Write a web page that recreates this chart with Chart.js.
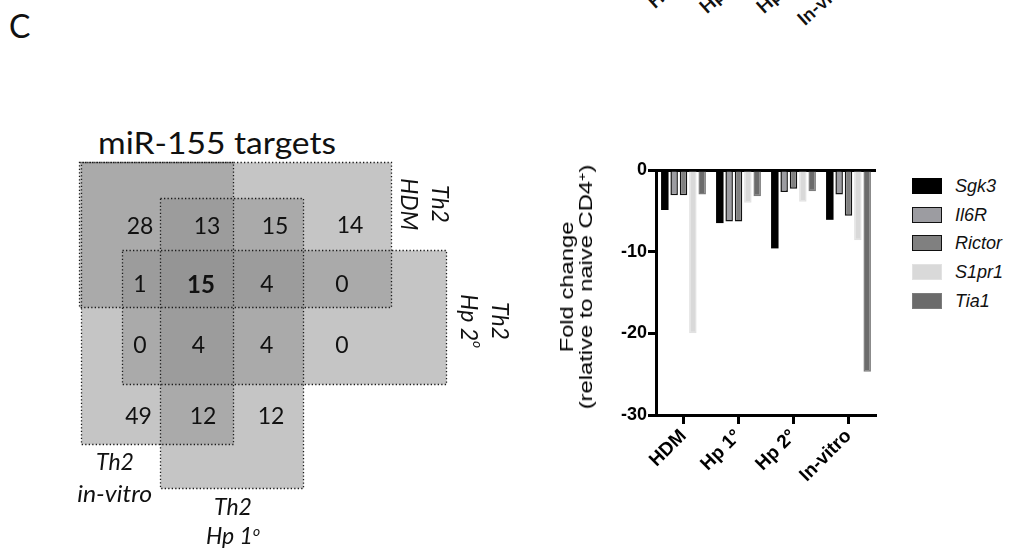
<!DOCTYPE html>
<html>
<head>
<meta charset="utf-8">
<script src="https://cdn.jsdelivr.net/npm/chart.js@4.4.1/dist/chart.umd.min.js"></script>
<style>
  body { margin: 0; width: 1013px; height: 554px; overflow: hidden; position: relative; background: #fff; font-family: Lato, "Open Sans", sans-serif; color: #111; }
  .txt { position: absolute; white-space: nowrap; line-height: 1; }
  .vert { position: absolute; writing-mode: vertical-rl; text-align: center; font-style: italic; font-size: 23px; line-height: 31px; white-space: nowrap; }
  .horz { position: absolute; text-align: center; font-style: italic; font-size: 23px; white-space: nowrap; }
  .cut { position: absolute; font-weight: bold; font-size: 19px; line-height: 1; transform-origin: 0 100%; transform: rotate(-42deg); white-space: nowrap; }
  .ord { font-size: 0.6em; vertical-align: 0.55em; line-height: 0; }
  #ytitle { position: absolute; left: 426px; top: 268px; width: 300px; height: 38px; font-family: "Liberation Sans", Arial, sans-serif; font-size: 19px; line-height: 19px; color: #000; text-align: center; white-space: nowrap; transform: rotate(-90deg) scaleX(1.25); }
  #legend { position: absolute; left: 912px; top: 178px; font-family: "Liberation Sans", Arial, sans-serif; }
  #legend .row { height: 28.7px; position: relative; }
  #legend .sw { position: absolute; left: 0; top: 0; width: 30px; height: 16px; box-sizing: border-box; }
  #legend .lb { position: absolute; left: 43px; top: -1px; font-style: italic; font-size: 18px; line-height: 18px; }
</style>
</head>
<body>

<div class="txt" style="left:9px; top:10px; font-size:32px;">C</div>

<!-- labels of the panel above, cut off by the top edge -->
<span class="cut" style="left:656px; top:-8px;">HDM</span>
<span class="cut" style="left:708px; top:-3px;">Hp 1°</span>
<span class="cut" style="left:765px; top:-3px;">Hp 2°</span>
<span class="cut" style="left:806px; top:9px;">In-vitro</span>

<div class="txt" style="left:98px; top:127px; font-size:30px; transform-origin:0 0; transform:scaleX(1.12);">miR-155 targets</div>

<canvas id="venn" width="460" height="380" style="position:absolute; left:60px; top:120px;"></canvas>

<div class="vert" style="left:394px; top:174px; height:60px;">Th2<br>HDM</div>
<div class="vert" style="left:454px; top:291px; height:60px;">Th2<br>Hp 2<span class="ord">o</span></div>
<div class="horz" style="left:55px; top:445px; width:120px; line-height:32px;">Th2<br><span style="display:inline-block; transform:scaleX(1.08);">in-vitro</span></div>
<div class="horz" style="left:173px; top:492px; width:120px; line-height:29px;">Th2<br>Hp 1<span class="ord">o</span></div>

<canvas id="bars" width="340" height="404" style="position:absolute; left:540px; top:150px;"></canvas>
<div id="ytitle">Fold change<br>(relative to naive CD4<span class="ord">+</span>)</div>
<div id="legend"></div>

<script>
// ---- venn of miR-155 targets (grid units, 1 unit = 10 px of the canvas) ----
const setNames = ["Th2 in-vitro", "Th2 HDM", "Th2 Hp 1o", "Th2 Hp 2o"];
const setLeft = [2.07, 1.93, 10.0, 6.23];
const setRight = [17.33, 33.07, 24.33, 38.57];
const setTop = [4.17, 4.17, 7.83, 13.0];
const setBottom = [32.4, 18.7, 36.83, 26.4];

const vennCounts = [28, 13, 15, 14, 1, 15, 4, 0, 0, 4, 4, 0, 49, 12, 12];
const vennCountX = [8.0, 14.7, 21.5, 29.0, 8.0, 14.1, 20.7, 28.2, 8.0, 13.85, 20.67, 28.2, 7.85, 14.3, 21.1];
const vennCountY = [10.7, 10.7, 10.7, 10.6, 16.5, 16.5, 16.5, 16.5, 22.6, 22.6, 22.6, 22.6, 29.7, 29.7, 29.7];
const vennBold = 5; // the count shared by all four sets

// ---- fold change bar chart ----
const categories = ["HDM", "Hp 1°", "Hp 2°", "In-vitro"];
const genes = ["Sgk3", "Il6R", "Rictor", "S1pr1", "Tia1"];
const sgk3 = [-4.9, -6.5, -9.6, -6.1];
const il6r = [-3.1, -6.3, -2.7, -3.0];
const rictor = [-3.1, -6.3, -2.3, -5.6];
const s1pr1 = [-20.0, -4.0, -3.9, -8.6];
const tia1 = [-3.0, -3.2, -2.6, -24.7];
const yTicks = [0, -10, -20, -30];

const vennPlugin = {
    id: "vennBoxes",
    beforeDatasetsDraw(chart) {
        const { ctx, scales: { x, y } } = chart;
        const boxes = setNames.map((name, i) => {
            const x0 = Math.round(x.getPixelForValue(setLeft[i])) + 0.5;
            const x1 = Math.round(x.getPixelForValue(setRight[i])) + 0.5;
            const y0 = Math.round(y.getPixelForValue(setTop[i])) + 0.5;
            const y1 = Math.round(y.getPixelForValue(setBottom[i])) + 0.5;
            return [x0, y0, x1 - x0, y1 - y0];
        });
        ctx.save();
        ctx.fillStyle = "rgba(143,143,143,0.52)";
        boxes.forEach(b => ctx.fillRect(b[0], b[1], b[2], b[3]));
        ctx.setLineDash([1.3, 2.2]);
        ctx.lineWidth = 1.3;
        ctx.strokeStyle = "#1a1a1a";
        boxes.forEach(b => ctx.strokeRect(b[0], b[1], b[2], b[3]));
        ctx.restore();
    },
    afterDatasetsDraw(chart) {
        const ctx = chart.ctx;
        const meta = chart.getDatasetMeta(0);
        ctx.save();
        ctx.fillStyle = "#111";
        ctx.textAlign = "center";
        ctx.textBaseline = "middle";
        meta.data.forEach((pt, i) => {
            ctx.font = (i === vennBold ? "bold 24px " : "23px ") + "Lato, 'Open Sans', sans-serif";
            ctx.fillText(String(vennCounts[i]), pt.x, pt.y);
        });
        ctx.restore();
    }
};

new Chart(document.getElementById("venn"), {
    type: "scatter",
    data: {
        datasets: [{
            data: vennCounts.map((c, i) => ({ x: vennCountX[i], y: vennCountY[i] })),
            pointRadius: 0
        }]
    },
    options: {
        responsive: false,
        animation: false,
        events: [],
        layout: { padding: 0 },
        plugins: { legend: { display: false }, tooltip: { enabled: false } },
        scales: {
            x: { display: false, min: 0, max: 46 },
            y: { display: false, min: 0, max: 38, reverse: true }
        }
    },
    plugins: [vennPlugin]
});

Chart.defaults.font.family = "'Liberation Sans', Arial, sans-serif";
Chart.defaults.color = "#000";

const barStyles = [
    { bg: "#000000", border: "#000000", bw: 0 },
    { bg: "#9c9ca1", border: "#111111", bw: 1.5 },
    { bg: "#808080", border: "#111111", bw: 1.5 },
    { bg: "#d9d9d9", border: "#e2e2e2", bw: 1.5 },
    { bg: "#6b6b6b", border: "#7c7c7c", bw: 1.5 }
];
const series = [sgk3, il6r, rictor, s1pr1, tia1];

const barChart = new Chart(document.getElementById("bars"), {
    type: "bar",
    data: {
        labels: categories,
        datasets: genes.map((g, i) => ({
            label: g,
            data: series[i],
            backgroundColor: barStyles[i].bg,
            borderColor: barStyles[i].border,
            borderWidth: barStyles[i].bw,
            categoryPercentage: 0.85,
            barPercentage: 0.8
        }))
    },
    options: {
        responsive: false,
        animation: false,
        events: [],
        layout: { padding: { left: 17, top: 20, right: 4, bottom: 0 } },
        plugins: { legend: { display: false }, tooltip: { enabled: false } },
        scales: {
            x: {
                grid: { display: true, drawOnChartArea: false, offset: false, tickLength: 9, tickWidth: 3, tickColor: "#000" },
                border: { display: true, color: "#000", width: 3 },
                ticks: {
                    font: { size: 19, weight: "bold" },
                    minRotation: 45, maxRotation: 45, padding: 1
                },
                afterFit(scale) { scale.height = 139; }
            },
            y: {
                min: -30, max: 0,
                afterBuildTicks(scale) { scale.ticks = yTicks.map(v => ({ value: v })); },
                grid: {
                    drawOnChartArea: true,
                    color: c => (c.tick && c.tick.value === 0 ? "#000" : "rgba(0,0,0,0)"),
                    lineWidth: 3,
                    tickLength: 8, tickWidth: 3, tickColor: "#000"
                },
                border: { display: true, color: "#000", width: 3 },
                ticks: { font: { size: 18, weight: "bold" }, padding: 1 },
                title: { display: false },
                afterFit(scale) { scale.width = 99; }
            }
        }
    }
});

// legend built from the chart's own datasets
const legendBox = document.getElementById("legend");
barChart.data.datasets.forEach(ds => {
    const row = document.createElement("div");
    row.className = "row";
    const sw = document.createElement("div");
    sw.className = "sw";
    sw.style.background = ds.backgroundColor;
    sw.style.border = ds.borderWidth ? "1.5px solid " + ds.borderColor : "none";
    const lb = document.createElement("div");
    lb.className = "lb";
    lb.textContent = ds.label;
    row.appendChild(sw);
    row.appendChild(lb);
    legendBox.appendChild(row);
});
</script>
</body>
</html>
